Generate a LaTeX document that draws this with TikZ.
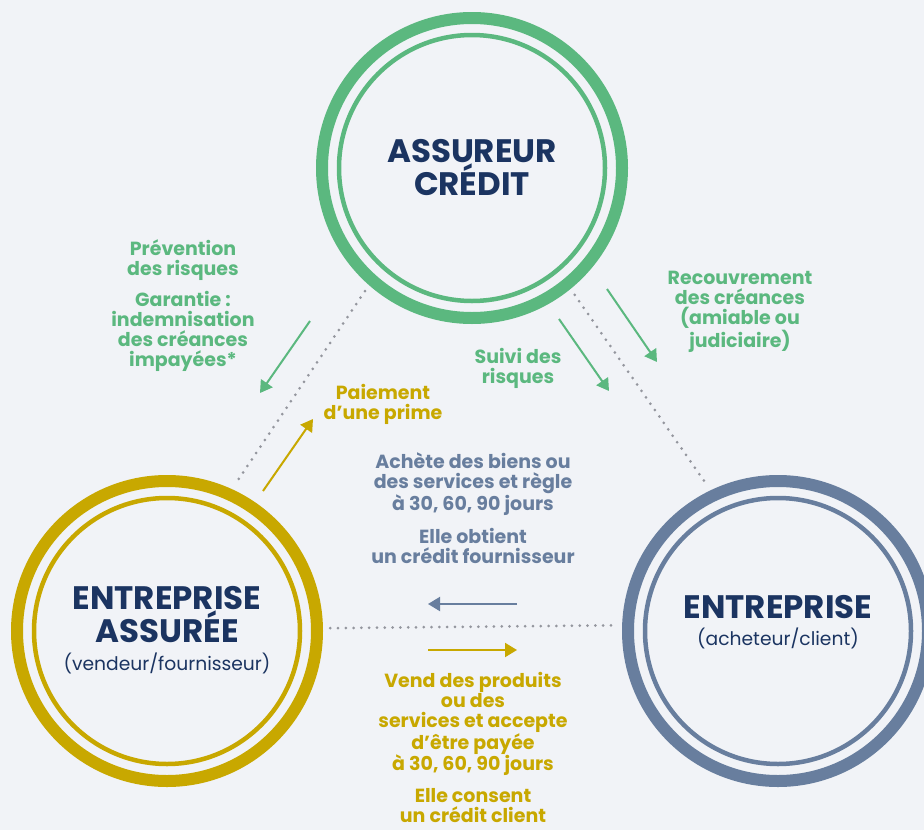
\documentclass[tikz,border=0pt]{standalone}
\usepackage{fontspec}
\setmainfont{Poppins}
\usetikzlibrary{arrows.meta}

\definecolor{bggray}{HTML}{F1F3F7}
\definecolor{mint}{HTML}{5BB87F}
\definecolor{mustard}{HTML}{C8A800}
\definecolor{steel}{HTML}{687E9E}
\definecolor{navy}{HTML}{1B3461}
\definecolor{dotgray}{HTML}{94969E}

\tikzset{
  zone/.style={circle, minimum size=326pt, inner sep=0pt},
  ring/.style={draw=#1, line width=12pt},
  thinring/.style={draw=#1, line width=4.5pt},
  dotline/.style={draw=dotgray, line width=3pt, line cap=round, dash pattern=on 0pt off 7.8pt},
  flow/.style={draw=#1, line width=2pt, -{Triangle[length=12pt,width=14pt]}},
  title/.style={text=navy, font=\bfseries\fontsize{32.5}{33}\selectfont, align=center, inner sep=0pt},
  sub/.style={text=navy, font=\fontsize{18.7}{22}\selectfont, inner sep=0pt},
  note/.style={text=#1, font=\bfseries\fontsize{19}{20}\selectfont, align=center, inner sep=0pt},
}

\begin{document}
\begin{tikzpicture}[x=1pt,y=-1pt]

\fill[bggray] (0,0) rectangle (924,830);
\useasboundingbox (0,0) rectangle (924,830);

% the three parties
\node[zone] (assureur) at (472,168) {};
\node[zone] (assuree) at (167,631) {};
\node[zone] (client) at (778,631) {};

\foreach \z/\c in {assureur/mint, assuree/mustard, client/steel}{
    \draw[ring=\c] (\z.center) circle (150pt);
    \draw[thinring=\c] (\z.center) circle (133pt);
}

\draw[dotline] (assureur.229.5) -- (assuree.65.5);
\draw[dotline] (assureur.309.5) -- (client.116.4);
\draw[dotline] (assuree.1.5) -- (client.178.5);

\node[title] (t-assureur) at (472,168) {ASSUREUR\\CRÉDIT};
\node[title] (t-assuree) at (167,615) {ENTREPRISE\\ASSURÉE};
\node[sub] (s-assuree) at (167,663) {(vendeur/fournisseur)};
\node[title] (t-client) at (778,607) {ENTREPRISE};
\node[sub] (s-client) at (778,638) {(acheteur/client)};

% labels
\node[note=mint] (prevention) at (183,260) {Prévention\\des risques};
\node[note=mint] (garantie) at (183,331) {Garantie :\\indemnisation\\des créances\\impayées*};
\node[note=mint] (recouvrement) at (740,312) {Recouvrement\\des créances\\(amiable ou\\judiciaire)};
\node[note=mint] (suivi) at (518,368) {Suivi des\\risques};
\node[note=mustard] (prime) at (383,404) {Paiement\\d’une prime};
\node[note=steel] (achete) at (473,484) {Achète des biens ou\\des services et règle\\à 30, 60, 90 jours};
\node[note=steel] (obtient) at (473,546) {Elle obtient\\un crédit fournisseur};
\node[note=mustard] (vend) at (473,724) {Vend des produits\\ou des\\services et accepte\\d’être payée\\à 30, 60, 90 jours};
\node[note=mustard] (consent) at (473,806) {Elle consent\\un crédit client};

% flows
\coordinate (garantie-a) at (310,321);
\coordinate (garantie-b) at (260,393);
\coordinate (prime-a) at (263,491);
\coordinate (prime-b) at (313,419);
\coordinate (suivi-a) at (559,319);
\coordinate (suivi-b) at (609,391);
\coordinate (recouv-a) at (607,289);
\coordinate (recouv-b) at (657,362);
\coordinate (achat-a) at (517,604);
\coordinate (achat-b) at (428,604);
\coordinate (vente-a) at (428,650);
\coordinate (vente-b) at (517,650);

\draw[flow=mint] (garantie-a) -- (garantie-b);
\draw[flow=mustard] (prime-a) -- (prime-b);
\draw[flow=mint] (suivi-a) -- (suivi-b);
\draw[flow=mint] (recouv-a) -- (recouv-b);
\draw[flow=steel] (achat-a) -- (achat-b);
\draw[flow=mustard] (vente-a) -- (vente-b);

\end{tikzpicture}
\end{document}
